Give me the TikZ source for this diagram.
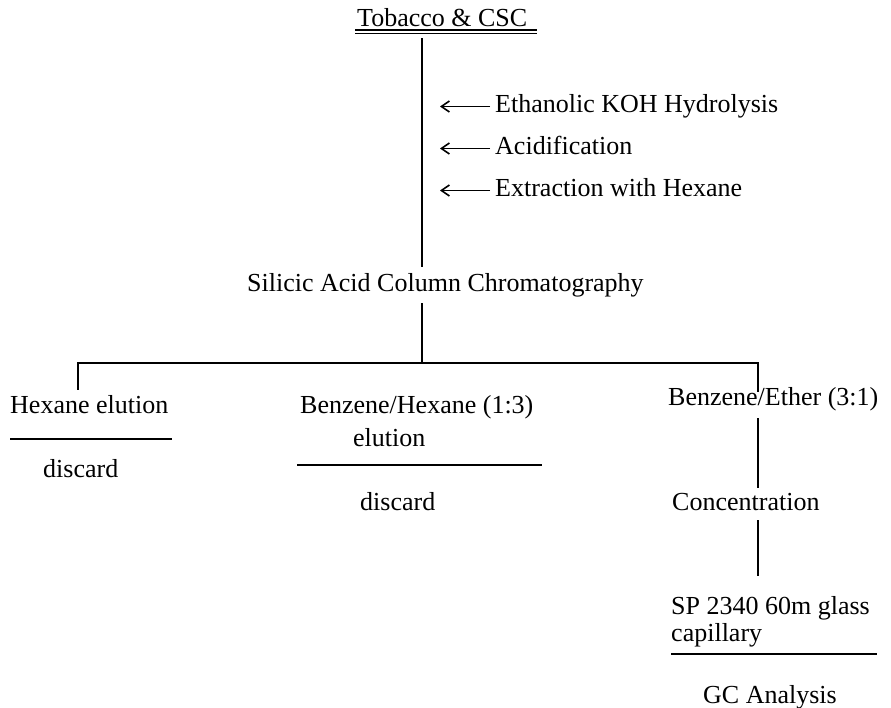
\documentclass[tikz,border=0pt]{standalone}
\usepackage{fontspec}
\setmainfont{Liberation Serif}
\usetikzlibrary{arrows.meta}

\begin{document}
\begin{tikzpicture}[
            x=1pt, y=-1pt,
            >={Straight Barb[length=8pt,width=11pt]},
            every node/.style={inner sep=0pt, anchor=base west, text height=19pt, text depth=6pt,
                               font=\fontsize{26}{30}\selectfont},
            rule/.style={line width=1.8pt}
            ]
            \useasboundingbox (0,0) rectangle (891,708);

            % x positions of the vertical lines
            \coordinate (trunkx) at (422,0);
            \coordinate (lx) at (78,0);
            \coordinate (rx) at (758,0);
            \coordinate (tipx) at (440,0);
            \coordinate (split) at (422,363);

            \node (tob) at (357,27) {Tobacco \& CSC};
            \node (eth) at (495,113) {Ethanolic KOH Hydrolysis};
            \node (acid) at (495,155) {Acidification};
            \node (extr) at (495,197) {Extraction with Hexane};
            \node (sil) at (247,292) {Silicic Acid Column Chromatography};

            \node (hex) at (10,413) {Hexane elution};
            \node (hexdis) at (43,477) {discard};
            \node (bhex) at (300,413) {Benzene/Hexane (1:3)};
            \node (bhexel) at (353,446) {elution};
            \node (bhexdis) at (360,510) {discard};
            \node (bether) at (668,405) {Benzene/Ether (3:1)};
            \node (conc) at (672,510) {Concentration};
            \node (sp) at (671,614) {SP 2340 60m glass};
            \node (cap) at (671,641) {capillary};
            \node (gc) at (703,703) {GC Analysis};

            % double underline
            \draw[line width=1.1pt] (355,30) -- (537,30);
            \draw[rule] (355,33.5) -- (537,33.5);

            \draw[rule, shorten <=5pt, shorten >=6pt] (tob.south -| trunkx) -- (sil.north -| trunkx);
            \draw[->, line width=1.6pt] ([xshift=-5pt]eth.west) -- (eth.west -| tipx);
            \draw[->, line width=1.6pt] ([xshift=-5pt]acid.west) -- (acid.west -| tipx);
            \draw[->, line width=1.6pt] ([xshift=-5pt]extr.west) -- (extr.west -| tipx);

            \draw[rule, shorten <=5pt] (sil.south -| trunkx) -- (split);
            \draw[rule, shorten <=4pt, shorten >=-6pt] (hex.north -| lx) -- (lx |- split) -- (rx |- split) -- (bether.north -| rx);

            \draw[rule, shorten <=7pt, shorten >=3pt] (bether.south -| rx) -- (conc.north -| rx);
            \draw[rule, shorten <=4pt, shorten >=19pt] (conc.south -| rx) -- (sp.north -| rx);

            % rules under the texts
            \draw[rule] (10,439) -- (172,439);
            \draw[rule] (297,465) -- (542,465);
            \draw[rule] (671,654) -- (877,654);
        \end{tikzpicture}
\end{document}
